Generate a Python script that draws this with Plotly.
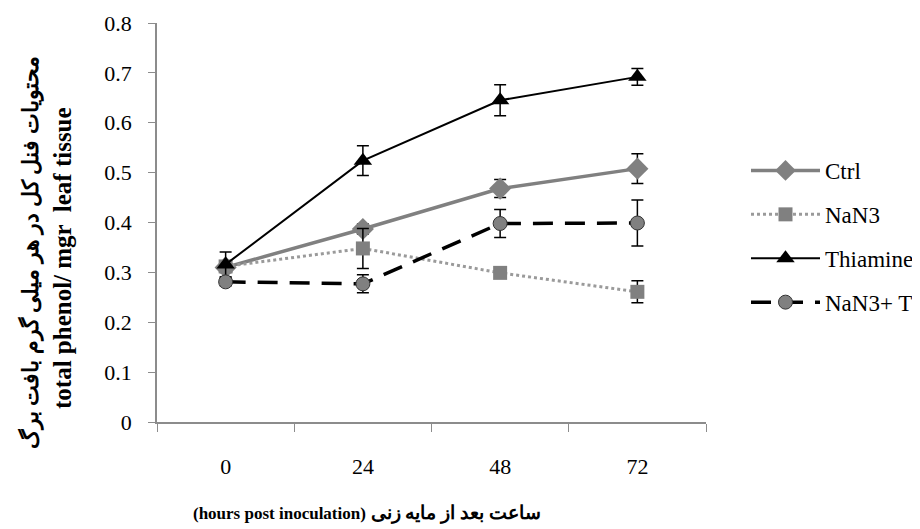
import plotly.graph_objects as go

hours = ["0", "24", "48", "72"]
ctrl = [0.310, 0.387, 0.468, 0.508]
ctrl_err = [0.010, 0.010, 0.018, 0.030]
nan3 = [0.312, 0.348, 0.299, 0.261]
nan3_err = [0.010, 0.040, 0.008, 0.022]
thiamine = [0.316, 0.524, 0.645, 0.692]
thiamine_err = [0.025, 0.030, 0.031, 0.017]
nan3_t = [0.281, 0.277, 0.398, 0.399]
nan3_t_err = [0.008, 0.018, 0.028, 0.046]

series_names = ["Ctrl", "NaN3", "Thiamine", "NaN3+ Thiamine"]
y_title_fa = "محتویات فنل کل در هر میلی گرم بافت برگ"
y_title_en = "total phenol/ mgr  leaf tissue"
x_title_en = "(hours post inoculation)"
x_title_fa = "ساعت بعد از مایه زنی"

FONT = "Liberation Serif, Times New Roman, serif"
fig = go.Figure()

def err(vals):
    return dict(type="data", array=vals, visible=True, color="black", thickness=1.5, width=6)

fig.add_trace(go.Scatter(
    x=hours, y=ctrl, name=series_names[0], mode="lines+markers", legendgroup="a",
    line=dict(color="#808080", width=3.5),
    marker=dict(symbol="diamond", size=17, color="#808080"),
    error_y=err(ctrl_err)))
fig.add_trace(go.Scatter(
    x=hours, y=nan3, name=series_names[1], mode="lines+markers", legendgroup="b",
    line=dict(color="#9a9a9a", width=3, dash="dot"),
    marker=dict(symbol="square", size=14, color="#808080"),
    error_y=err(nan3_err)))
fig.add_trace(go.Scatter(
    x=hours, y=thiamine, name=series_names[2], mode="lines+markers", legendgroup="c",
    line=dict(color="black", width=2),
    marker=dict(symbol="triangle-up", size=16, color="black"),
    error_y=err(thiamine_err)))
fig.add_trace(go.Scatter(
    x=hours, y=nan3_t, name=series_names[3], mode="lines+markers", legendgroup="d",
    line=dict(color="black", width=3.5, dash="20px,12px"),
    marker=dict(symbol="circle", size=14, color="#808080", line=dict(color="#333333", width=1)),
    error_y=err(nan3_t_err)))

# page body has an 8px offset; the figure is sized so the plot lands where the reference has it
W, H = 920, 521
L, R, T, B = 149, 222, 15, 107
PW, PH = W - L - R, H - T - B

def px(xs):
    return (xs - 8 - L) / PW

def py(ys):
    return (H - B - (ys - 8)) / PH

fig.update_layout(
    width=W, height=H,
    margin=dict(l=L, r=R, t=T, b=B, autoexpand=False),
    paper_bgcolor="white", plot_bgcolor="white",
    font=dict(family=FONT, size=22, color="black"),
    showlegend=True,
    legend=dict(x=px(746), y=py(149), xanchor="left", yanchor="top",
                font=dict(family=FONT, size=23), tracegroupgap=11,
                itemwidth=69, bgcolor="rgba(0,0,0,0)"),
    xaxis=dict(type="category", range=[-0.5, 3.5], showline=True, linecolor="#8c8c8c", linewidth=1.5,
               ticks="outside", tickson="boundaries", ticklen=8, tickcolor="#8c8c8c",
               showgrid=False, zeroline=False, tickfont=dict(size=22), ticklabelstandoff=24),
    yaxis=dict(range=[0, 0.8], dtick=0.1, showline=True, linecolor="#8c8c8c", linewidth=1.5,
               ticks="outside", ticklen=7, tickcolor="#8c8c8c", showgrid=False, zeroline=False,
               tickformat=".1~f", tickfont=dict(size=22), ticklabelstandoff=12),
)

fig.add_annotation(
    text="<b>" + y_title_fa + "</b>", textangle=-90,
    xref="paper", yref="paper", x=px(30), y=py(253),
    xanchor="center", yanchor="middle", showarrow=False,
    font=dict(family=FONT, size=22))
fig.add_annotation(
    text="<b>" + y_title_en + "</b>", textangle=-90,
    xref="paper", yref="paper", x=px(62), y=py(258),
    xanchor="center", yanchor="middle", showarrow=False,
    font=dict(family=FONT, size=25))
fig.add_annotation(
    text="<b><span style='font-size:17px'>" + x_title_en + "</span> " + x_title_fa + "</b>",
    xref="paper", yref="paper", x=px(367), y=py(513),
    xanchor="center", yanchor="middle", showarrow=False,
    font=dict(family=FONT, size=19))

fig.write_html("out.html")
